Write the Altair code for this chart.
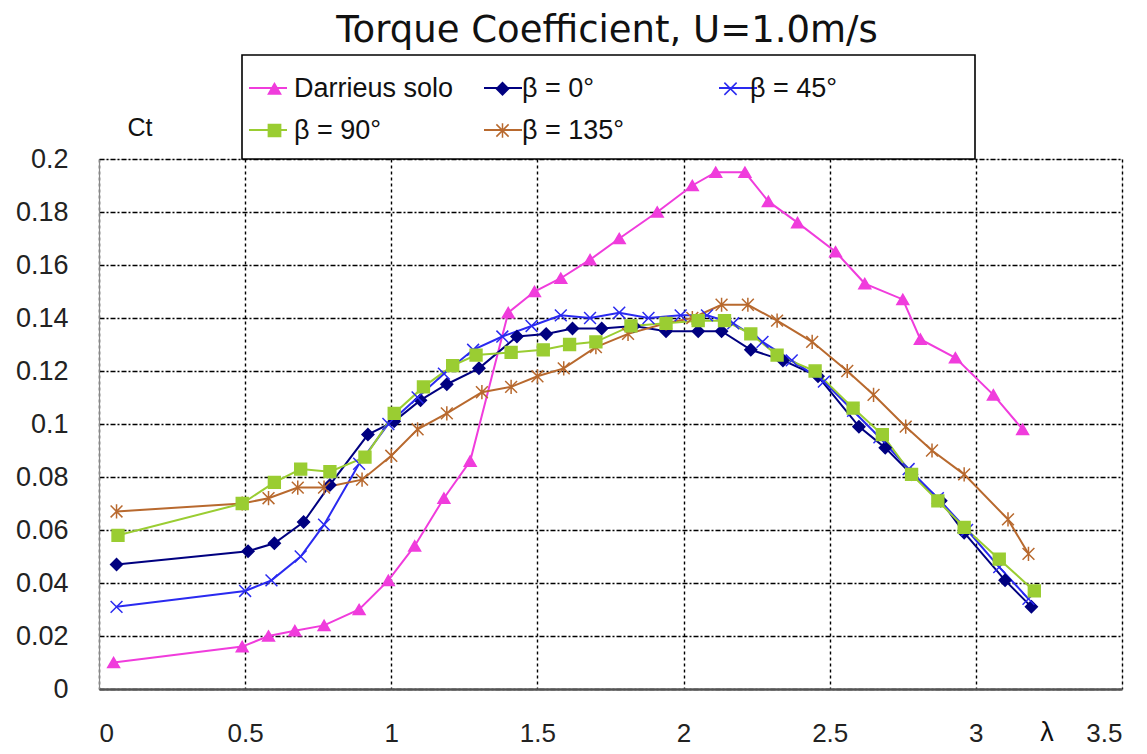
import altair as alt
import pandas as pd

# ---- data ----
series_names = ["Darrieus solo", "β = 0°", "β = 45°", "β = 90°", "β = 135°"]

darrieus_x = [0.05, 0.49, 0.58, 0.67, 0.77, 0.89, 0.99, 1.08, 1.18, 1.27, 1.40, 1.49, 1.58, 1.68, 1.78, 1.91,
              2.03, 2.11, 2.21, 2.29, 2.39, 2.52, 2.62, 2.75, 2.81, 2.93, 3.06, 3.16]
darrieus_y = [0.010, 0.016, 0.020, 0.022, 0.024, 0.030, 0.041, 0.054, 0.072, 0.086, 0.142, 0.150, 0.155, 0.162,
              0.170, 0.180, 0.190, 0.195, 0.195, 0.184, 0.176, 0.165, 0.153, 0.147, 0.132, 0.125, 0.111, 0.098]

b0_x = [0.06, 0.51, 0.60, 0.70, 0.79, 0.92, 1.01, 1.10, 1.19, 1.30, 1.43, 1.53, 1.62, 1.72, 1.83, 1.94, 2.05,
        2.13, 2.23, 2.34, 2.46, 2.60, 2.69, 2.78, 2.88, 2.96, 3.10, 3.19]
b0_y = [0.047, 0.052, 0.055, 0.063, 0.077, 0.096, 0.101, 0.109, 0.115, 0.121, 0.133, 0.134, 0.136, 0.136, 0.137,
        0.135, 0.135, 0.135, 0.128, 0.124, 0.118, 0.099, 0.091, 0.081, 0.071, 0.059, 0.041, 0.031]

b45_x = [0.06, 0.50, 0.59, 0.69, 0.77, 0.89, 0.99, 1.09, 1.18, 1.28, 1.38, 1.48, 1.58, 1.68, 1.78, 1.88, 1.99,
         2.08, 2.17, 2.27, 2.37, 2.48, 2.58, 2.67, 2.77, 2.87, 2.97, 3.08, 3.18]
b45_y = [0.031, 0.037, 0.041, 0.050, 0.062, 0.085, 0.100, 0.110, 0.119, 0.128, 0.133, 0.137, 0.141, 0.140, 0.142,
         0.140, 0.141, 0.141, 0.138, 0.131, 0.124, 0.116, 0.105, 0.095, 0.083, 0.072, 0.060, 0.046, 0.034]

b90_x = [0.065, 0.49, 0.60, 0.69, 0.79, 0.91, 1.01, 1.11, 1.21, 1.29, 1.41, 1.52, 1.61, 1.70, 1.82, 1.94, 2.05,
         2.14, 2.23, 2.32, 2.45, 2.58, 2.68, 2.78, 2.87, 2.96, 3.08, 3.20]
b90_y = [0.058, 0.070, 0.078, 0.083, 0.082, 0.0875, 0.104, 0.114, 0.122, 0.126, 0.127, 0.128, 0.130, 0.131, 0.137,
         0.138, 0.139, 0.139, 0.134, 0.126, 0.120, 0.106, 0.096, 0.081, 0.071, 0.061, 0.049, 0.037]

b135_x = [0.06, 0.49, 0.58, 0.68, 0.77, 0.90, 1.00, 1.09, 1.19, 1.31, 1.41, 1.50, 1.59, 1.70, 1.81, 1.94, 2.03,
          2.13, 2.22, 2.32, 2.44, 2.56, 2.65, 2.76, 2.85, 2.96, 3.11, 3.18]
b135_y = [0.067, 0.070, 0.072, 0.076, 0.076, 0.079, 0.088, 0.098, 0.104, 0.112, 0.114, 0.118, 0.121, 0.129, 0.134,
          0.138, 0.140, 0.145, 0.145, 0.139, 0.131, 0.120, 0.111, 0.099, 0.090, 0.081, 0.064, 0.051]

x_ticks = [0, 0.5, 1, 1.5, 2, 2.5, 3, 3.5]
y_ticks = [0, 0.02, 0.04, 0.06, 0.08, 0.1, 0.12, 0.14, 0.16, 0.18, 0.2]

# ---- styling ----
colors = ["#F03CDC", "#000080", "#2A2AF0", "#9ACD32", "#B8692E"]
x_path = "M-1,-1L1,1M-1,1L1,-1"
star_path = "M-1,-1L1,1M-1,1L1,-1M0,-1.2L0,1.2"
shapes = ["triangle-up", "diamond", x_path, "square", star_path]
FONT = "Liberation Sans"

frames = []
# drawing order: green last so squares sit on top as in the reference
for name, xs, ys in [(series_names[0], darrieus_x, darrieus_y),
                     (series_names[1], b0_x, b0_y),
                     (series_names[2], b45_x, b45_y),
                     (series_names[4], b135_x, b135_y),
                     (series_names[3], b90_x, b90_y)]:
    frames.append(pd.DataFrame({"lam": xs, "ct": ys, "series": name, "series_l": name}))
df = pd.concat(frames, ignore_index=True)

W, H = 1023, 530

xenc = alt.X("lam:Q", scale=alt.Scale(domain=[0, 3.5], nice=False),
             axis=alt.Axis(values=x_ticks, format="~g", title=None, labelFontSize=26, labelFont=FONT,
                           labelColor="#222", ticks=False, tickSize=0, labelPadding=52,
                           labelBaseline="alphabetic",
                           domainColor="#555", domainWidth=2.5,
                           grid=True, gridColor="#000", gridDash=[3, 3], gridWidth=1.4))
yenc = alt.Y("ct:Q", scale=alt.Scale(domain=[0, 0.2], nice=False),
             axis=alt.Axis(values=y_ticks, format="~g", title=None, labelFontSize=27, labelFont=FONT,
                           labelColor="#222", ticks=False, tickSize=0, labelPadding=31,
                           domainColor="#888", domainWidth=1.2,
                           grid=True, gridColor="#000", gridDash=[5, 2, 2, 2], gridWidth=1.4))

col_scale = alt.Scale(domain=series_names, range=colors)
shape_scale = alt.Scale(domain=series_names, range=shapes)

common = dict(orient="none", legendX=149, columns=3, direction="horizontal",
              gridAlign="all", labelFont=FONT, padding=0, title=None)

# line-sample legend (no labels; spacing matches the marker legend below)
leg_line = alt.Legend(symbolType="stroke", symbolSize=1444, symbolStrokeWidth=2,
                      labelExpr="''", labelFontSize=27, labelOffset=6, columnPadding=186,
                      zindex=1, legendY=-91, rowPadding=9, **common)
# marker legend drawn over the line samples (labels shown)
leg_mark = alt.Legend(symbolSize=150, symbolStrokeWidth=1.5, symbolOffset=13,
                      labelOffset=6, labelFontSize=27, labelColor="#111", columnPadding=22,
                      zindex=2, legendY=-84, rowPadding=14, **common)

lines = alt.Chart(df).mark_line(strokeWidth=2).encode(
    x=xenc, y=yenc,
    color=alt.Color("series_l:N", scale=col_scale, title=None, legend=leg_line),
    detail="series:N",
)

points = alt.Chart(df).mark_point(size=140, strokeWidth=1.5, opacity=1).encode(
    x=xenc, y=yenc,
    fill=alt.Fill("series:N", scale=col_scale, title=None, legend=leg_mark),
    stroke=alt.Stroke("series:N", scale=col_scale, title=None, legend=leg_mark),
    shape=alt.Shape("series:N", scale=shape_scale, title=None, legend=leg_mark),
)

box = alt.Chart(pd.DataFrame({"k": [0]})).mark_rect(fill="white", stroke="#000", strokeWidth=1.6, clip=False).encode(
    x=alt.value(143), x2=alt.value(876), y=alt.value(-104), y2=alt.value(0)
)

texts = pd.DataFrame({"t": ["Torque Coefficient, U=1.0m/s"]})
title = alt.Chart(texts).mark_text(fontSize=37, font="DejaVu Sans", color="#111", align="center",
                                    baseline="middle").encode(
    text="t:N", x=alt.value(508), y=alt.value(-128))

ct = alt.Chart(pd.DataFrame({"t": ["Ct"]})).mark_text(fontSize=25, font=FONT, color="#111",
                                                      align="center", baseline="middle").encode(
    text="t:N", x=alt.value(41), y=alt.value(-31))

lam = alt.Chart(pd.DataFrame({"t": ["λ"]})).mark_text(fontSize=27, font=FONT, color="#111",
                                                      align="center", baseline="alphabetic").encode(
    text="t:N", x=alt.value(948), y=alt.value(582))

chart = alt.layer(box, lines, points, title, ct, lam).resolve_legend(color="independent").properties(
    width=W, height=H,
    autosize=alt.AutoSizeParams(type="none"),
    padding={"left": 91, "top": 151, "right": 17, "bottom": 57},
).configure_view(stroke="#999", strokeWidth=1.2).configure(background="white")

chart.save("out.html", embed_options={"renderer": "svg", "actions": False})
